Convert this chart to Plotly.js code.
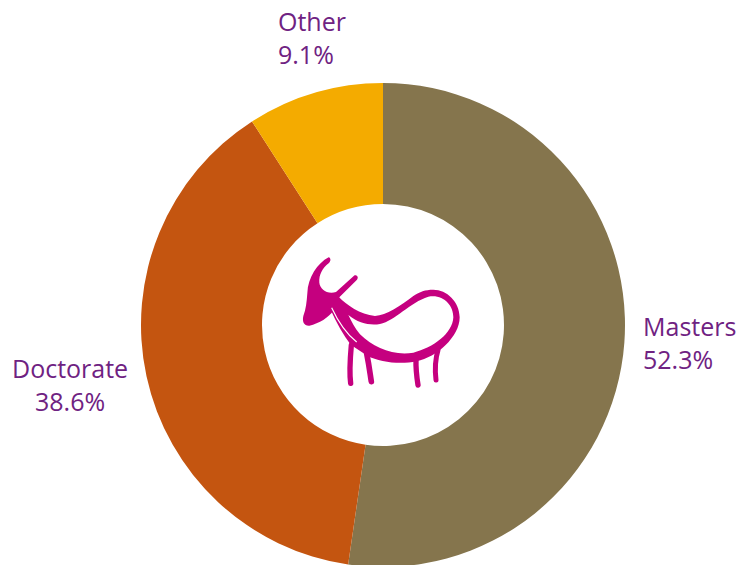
<!DOCTYPE html>
<html><head><meta charset="utf-8">
<script src="https://cdn.plot.ly/plotly-3.0.1.min.js"></script>
<style>html,body{margin:0;padding:0;background:#fff;overflow:hidden}</style></head>
<body><div id="c" style="width:745px;height:565px;overflow:hidden"></div>
<script>
const categories=["Masters","Doctorate","Other"];
const shares=[52.3,38.6,9.1];
const sliceColors=["#85754d","#c45510","#f4ab00"];
const labelFont={family:"Open Sans",size:25,color:"#6f2282"};
const annotationsText=[
 {t:"Masters<br>52.3%",x:640.5,y:342.5,a:"left"},
 {t:"Doctorate<br>38.6%",x:70,y:384.5,a:"center"},
 {t:"Other<br>9.1%",x:275.5,y:37.5,a:"left"}
];
const W=745,H=568;
const logo=`<svg xmlns="http://www.w3.org/2000/svg" viewBox="0 0 600 480" width="600" height="480">
<g fill="#c5007f" stroke="none">
<path d="M146 52C153 54 153 64 146 70C128 84 116 104 118 128C120 148 142 164 168 156L222 107C230 103 237 112 231 119L178 172C172 182 170 200 160 212C146 232 118 250 88 257C72 258 66 245 70 228C78 208 80 186 82 160C84 112 112 70 146 52Z"/>
<path fill-rule="evenodd" d="M150 205L176 170C200 195 240 223 285 228C320 226 360 198 400 168C420 155 435 149 460 149C500 149 539 185 539 232C539 290 470 352 410 364C360 374 300 367 262 347L212 314C190 285 170 250 150 205ZM205 225C235 250 270 257 300 252C345 242 390 187 445 170C490 162 520 195 520 232C518 280 460 323 400 338C340 348 280 323 240 283C225 265 215 245 205 225Z"/>
</g>
<g fill="none" stroke="#c5007f" stroke-linecap="round">
<path stroke-width="16" d="M214 315C210 360 208 400 212 430"/>
<path stroke-width="17" d="M260 340C268 380 270 400 274 425"/>
<path stroke-width="16" d="M408 355C407 390 410 410 414 435"/>
<path stroke-width="15" d="M474 330C465 360 465 395 468 420"/>
<path stroke="#fff" stroke-width="3.5" stroke-linecap="butt" d="M155 203C172 240 198 280 230 306"/>
</g></svg>`;
Plotly.newPlot("c",[{type:"pie",labels:categories,values:shares,hole:0.5,sort:false,direction:"clockwise",rotation:0,
 marker:{colors:sliceColors,line:{width:0}},textinfo:"none",hoverinfo:"label+percent",
 domain:{x:[141/W,625/W],y:[1-567/H,1-83/H]}}],
 {width:W,height:H,margin:{l:0,r:0,t:0,b:0},showlegend:false,paper_bgcolor:"#fff",
 images:[{source:"data:image/svg+xml;charset=utf-8,"+encodeURIComponent(logo),xref:"paper",yref:"paper",x:280/W,y:1-240/H,sizex:200/W,sizey:160/H,xanchor:"left",yanchor:"top",sizing:"stretch",layer:"above"}],
 annotations:annotationsText.map(a=>({text:a.t,xref:"paper",yref:"paper",x:a.x/W,y:1-a.y/H,xanchor:a.a,yanchor:"middle",align:a.a,showarrow:false,font:labelFont}))
 },{displayModeBar:false});
</script></body></html>
